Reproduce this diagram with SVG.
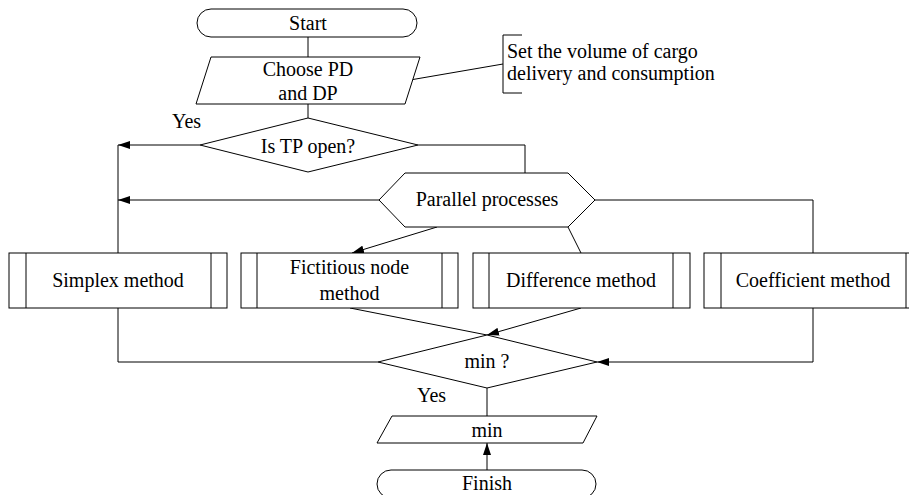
<svg xmlns="http://www.w3.org/2000/svg" width="909" height="495" viewBox="0 0 909 495">
<defs>
<style>
.s{fill:#fff;stroke:#000;stroke-width:1}
.c{fill:none;stroke:#000;stroke-width:1}
text{font-family:"Liberation Serif","Times New Roman",Times,serif;font-size:20px;fill:#000}
.m{text-anchor:middle}
</style>
<marker id="arr" viewBox="0 0 12 8" refX="12" refY="4" markerWidth="12" markerHeight="8" orient="auto" markerUnits="userSpaceOnUse"><path d="M0,0 L12,4 L0,8 z" fill="#000"/></marker>
</defs>
<rect width="909" height="495" fill="#fff"/>
<g id="connectors">
<line class="c" x1="308" y1="37" x2="308" y2="57"/>
<line class="c" x1="308" y1="104" x2="308" y2="118"/>
<line class="c" x1="410" y1="80" x2="503" y2="64"/>
<line class="c" x1="200" y1="145" x2="118" y2="145" marker-end="url(#arr)"/>
<line class="c" x1="118" y1="145" x2="118" y2="253"/>
<path class="c" d="M418,145 H525 V173"/>
<line class="c" x1="379" y1="200" x2="118" y2="200" marker-end="url(#arr)"/>
<path class="c" d="M595,200 H813 V253"/>
<line class="c" x1="437" y1="227" x2="352" y2="253" marker-end="url(#arr)"/>
<line class="c" x1="568" y1="227" x2="581" y2="253"/>
<path class="c" d="M118,308 V362 H378"/>
<path class="c" d="M813,308 V362 H597" marker-end="url(#arr)"/>
<line class="c" x1="350" y1="308" x2="487" y2="335"/>
<line class="c" x1="581" y1="308" x2="487" y2="335" marker-end="url(#arr)"/>
<line class="c" x1="487" y1="388" x2="487" y2="416"/>
<line class="c" x1="487" y1="470" x2="487" y2="443" marker-end="url(#arr)"/>
</g>
<g id="start">
<rect class="s" x="197" y="9" width="220" height="28" rx="14" ry="14"/>
<text class="m" x="308" y="30">Start</text>
</g>
<g id="choose">
<polygon class="s" points="211,57 420,57 405,104 196,104"/>
<text class="m" x="308" y="76">Choose PD</text>
<text class="m" x="308" y="100">and DP</text>
</g>
<g id="note">
<path class="c" d="M522,35 H503 V93 H522"/>
<text x="507" y="58">Set the volume of cargo</text>
<text x="507" y="80">delivery and consumption</text>
</g>
<g id="is-tp-open">
<polygon class="s" points="308,118 418,145 308,172 200,145"/>
<text class="m" x="308" y="153">Is TP open?</text>
<text x="172" y="128">Yes</text>
</g>
<g id="parallel">
<polygon class="s" points="379,200 405,173 568,173 595,200 568,227 405,227"/>
<text class="m" x="487" y="206">Parallel processes</text>
</g>
<g id="simplex">
<rect class="s" x="9" y="253" width="218" height="55"/>
<line class="c" x1="26" y1="253" x2="26" y2="308"/>
<line class="c" x1="211" y1="253" x2="211" y2="308"/>
<text class="m" x="118" y="287">Simplex method</text>
</g>
<g id="fictitious">
<rect class="s" x="241" y="253" width="217" height="55"/>
<line class="c" x1="257" y1="253" x2="257" y2="308"/>
<line class="c" x1="442" y1="253" x2="442" y2="308"/>
<text class="m" x="349.5" y="274">Fictitious node</text>
<text class="m" x="349.5" y="300">method</text>
</g>
<g id="difference">
<rect class="s" x="473" y="253" width="217" height="55"/>
<line class="c" x1="489" y1="253" x2="489" y2="308"/>
<line class="c" x1="673" y1="253" x2="673" y2="308"/>
<text class="m" x="581" y="287">Difference method</text>
</g>
<g id="coefficient">
<rect class="s" x="704" y="253" width="218" height="55"/>
<line class="c" x1="721" y1="253" x2="721" y2="308"/>
<line class="c" x1="906" y1="253" x2="906" y2="308"/>
<text class="m" x="813" y="287">Coefficient method</text>
</g>
<g id="min-decision">
<polygon class="s" points="487,335 597,362 487,388 378,362"/>
<text class="m" x="487" y="368">min ?</text>
<text x="417" y="402">Yes</text>
</g>
<g id="min-output">
<polygon class="s" points="392,416 597,416 583,443 377,443"/>
<text class="m" x="487" y="437">min</text>
</g>
<g id="finish">
<rect class="s" x="377" y="470" width="219" height="28" rx="14" ry="14"/>
<text class="m" x="487" y="490">Finish</text>
</g>
</svg>
